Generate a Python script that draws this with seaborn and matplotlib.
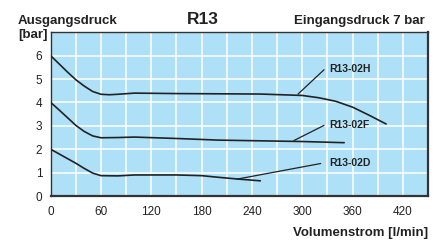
import matplotlib
matplotlib.use("Agg")
import matplotlib.pyplot as plt
import numpy as np
import pandas as pd
import seaborn as sns

# curve data
h_x = [0, 10, 20, 30, 40, 50, 60, 70, 80, 100, 150, 200, 250, 300, 320, 340, 360, 380, 400]
h_y = [6.0, 5.65, 5.3, 4.97, 4.7, 4.47, 4.35, 4.33, 4.35, 4.4, 4.38, 4.37, 4.36, 4.3, 4.2, 4.05, 3.8, 3.45, 3.08]
f_x = [0, 10, 20, 30, 40, 50, 60, 80, 100, 150, 200, 250, 300, 350]
f_y = [4.0, 3.68, 3.35, 3.02, 2.76, 2.57, 2.49, 2.5, 2.52, 2.46, 2.39, 2.36, 2.33, 2.28]
d_x = [0, 10, 20, 30, 40, 50, 60, 80, 100, 150, 180, 200, 225, 250]
d_y = [2.0, 1.8, 1.6, 1.4, 1.18, 0.98, 0.87, 0.86, 0.9, 0.9, 0.87, 0.8, 0.72, 0.65]

x_ticks = [0, 60, 120, 180, 240, 300, 360, 420]
y_ticks = [0, 1, 2, 3, 4, 5, 6]

# labels: name, text position, leader start, leader end
labels = [
    ("R13-02H", (332, 5.43), (326, 5.4), (295, 4.36)),
    ("R13-02F", (332, 3.02), (326, 3.02), (290, 2.37)),
    ("R13-02D", (332, 1.42), (322, 1.39), (222, 0.72)),
]

sns.set_style("white")
plt.rcParams['font.family'] = ['Liberation Sans', 'DejaVu Sans']

fig = plt.figure(figsize=(4.44, 2.40), dpi=100)
ax = fig.add_axes([0.1142, 0.1833, 0.964 - 0.1142, 0.8654 - 0.1833])
ax.set_facecolor('#aee0f8')

line_col = '#222222'
for xs, ys in [(h_x, h_y), (f_x, f_y), (d_x, d_y)]:
    df = pd.DataFrame({'x': xs, 'y': ys})
    sns.lineplot(data=df, x='x', y='y', ax=ax, color=line_col, linewidth=1.2, zorder=3)

for name, tpos, p0, p1 in labels:
    ax.plot([p0[0], p1[0]], [p0[1], p1[1]], color=line_col, linewidth=0.9, zorder=3)
    ax.text(tpos[0], tpos[1], name, fontsize=7.5, fontweight='bold', color='#222222',
            ha='left', va='center', zorder=4)

ax.set_xlim(0, 450)
ax.set_ylim(0, 7)
ax.set_xticks(x_ticks)
ax.set_yticks(y_ticks)
ax.set_xticks(np.arange(30, 450, 30), minor=True)
ax.set_yticks(np.arange(1, 7, 1), minor=True)
ax.grid(which='both', color='white', linewidth=1.1, zorder=1)
ax.set_axisbelow(True)
ax.tick_params(which='both', length=0, labelsize=8.5, colors='#222222')
ax.tick_params(axis='x', pad=7)
ax.tick_params(axis='y', pad=6)
ax.set_xlabel('')
ax.set_ylabel('')
for s in ax.spines.values():
    s.set_color('#333333')
    s.set_linewidth(1.0)
    s.set_visible(True)
ax.spines['right'].set_linewidth(1.6)
ax.spines['bottom'].set_linewidth(1.6)

fig.text(18 / 444, 1 - 21 / 240, 'Ausgangsdruck', fontsize=9.5, fontweight='bold',
         color='#222222', ha='left', va='center')
fig.text(18 / 444, 1 - 35 / 240, '[bar]', fontsize=9.5, fontweight='bold',
         color='#222222', ha='left', va='center')
fig.text(203 / 444, 1 - 20 / 240, 'R13', fontsize=12.5, fontweight='bold',
         color='#222222', ha='center', va='center')
fig.text(425 / 444, 1 - 21 / 240, 'Eingangsdruck 7 bar', fontsize=9.5, fontweight='bold',
         color='#222222', ha='right', va='center')
fig.text(428 / 444, 1 - 233 / 240, 'Volumenstrom [l/min]', fontsize=9.5, fontweight='bold',
         color='#222222', ha='right', va='center')

fig.savefig('out.png', dpi=100, facecolor='white')
